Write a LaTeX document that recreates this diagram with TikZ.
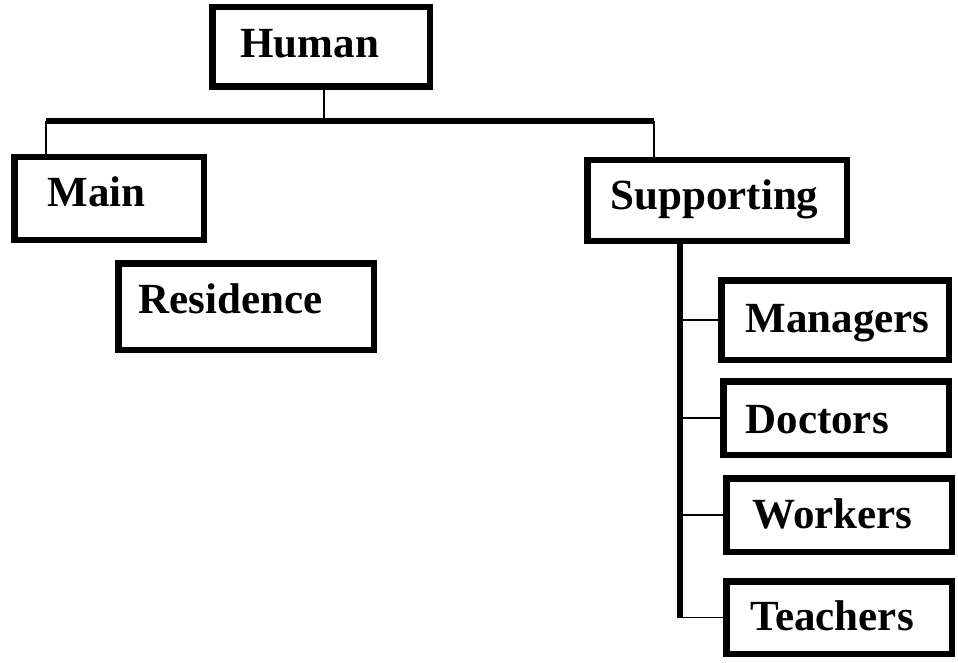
\documentclass[tikz,border=0pt]{standalone}
\usepackage{fontspec}
\setmainfont{Liberation Serif}
\usetikzlibrary{positioning,calc}

\begin{document}
\begin{tikzpicture}[
    x=1pt, y=-1pt,
    box/.style={rectangle, draw, line width=6.5pt, align=left, inner ysep=0pt,
      text height=29pt, text depth=0pt, font=\fontsize{43}{50}\selectfont\bfseries},
    bus/.style={line width=6pt},
    wire/.style={line width=1.8pt}
  ]
    \useasboundingbox (0,0) rectangle (958,663);
    \node[box, minimum width=217.5pt, minimum height=79.5pt, inner xsep=28pt, text width=161pt, text height=22pt] (human) at (321,47) {Human};
    \node[box, minimum width=189.5pt, minimum height=82.5pt, inner xsep=33pt, text width=123pt, text height=17pt] (main) at (109,198.5) {Main};
    \node[box, minimum width=255.5pt, minimum height=86.5pt, inner xsep=20pt, text width=215pt, text height=13pt] (res) at (246,306.5) {Residence};
    \node[box, minimum width=259.5pt, minimum height=80.5pt, inner xsep=23pt, text width=213pt, text height=19pt] (supp) at (717,200.5) {Supporting};
    \node[box, minimum width=227.5pt, minimum height=79.5pt, inner xsep=24pt, text width=179pt, text height=24pt] (mgr) at (835,320) {Managers};
    \node[box, minimum width=225.5pt, minimum height=73.5pt, inner xsep=22pt, text width=181pt, text height=30pt] (doc) at (836,418) {Doctors};
    \node[box, minimum width=225.5pt, minimum height=73.5pt, inner xsep=26pt, text width=173pt, text height=26pt] (work) at (839,515) {Workers};
    \node[box, minimum width=225.5pt, minimum height=72.5pt, inner xsep=24pt, text width=177pt, text height=25pt] (teach) at (839,617.5) {Teachers};
    % top level bar
    \coordinate (barL) at (46,121);
    \coordinate (barR) at (654,121);
    \draw[wire] ($(human.south)+(3,0)$) -- ($(human.south |- barL)+(3,0)$);
    \draw[bus] (barL) -- (barR);
    \draw[wire] (barL) -- (barL |- main.north);
    \draw[wire] (barR) -- (barR |- supp.north);
    % supporting branch
    \coordinate (spine) at (680,244);
    \draw[bus] (spine) -- (spine |- teach.west);
    \draw[wire] (spine |- mgr.west) -- (mgr.west);
    \draw[wire] (spine |- doc.west) -- (doc.west);
    \draw[wire] (spine |- work.west) -- (work.west);
    \draw[wire] (spine |- teach.west) -- (teach.west);
\end{tikzpicture}
\end{document}
